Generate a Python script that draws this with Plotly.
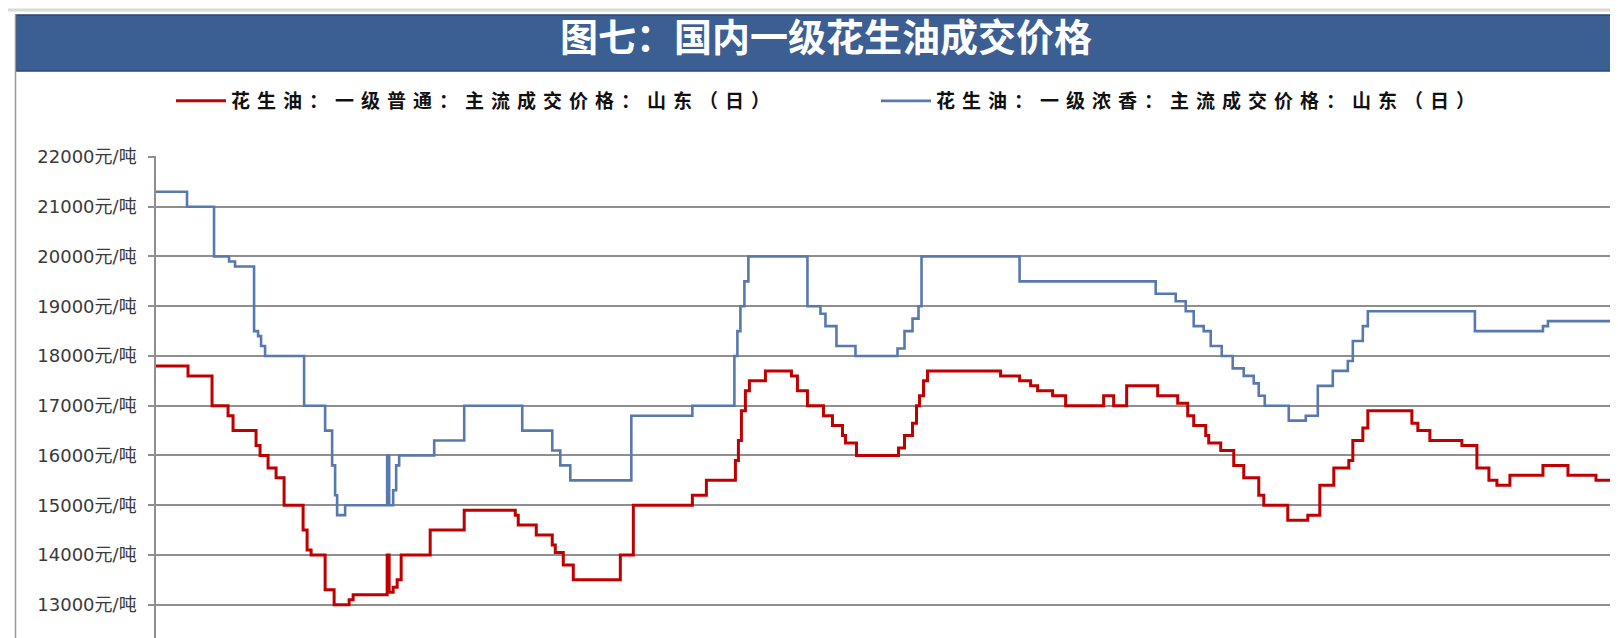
import plotly.graph_objects as go

# ---- data (day index from chart start, price in 元/吨) ----
common_day = [0, 32, 56, 72, 77, 100, 104, 112, 120, 128, 147, 151, 155, 169, 178, 193, 197,
              231, 233, 237, 241, 245, 274, 308, 359, 362, 380, 396, 399, 407, 417, 464, 477,
              536, 550, 579, 582, 585, 589, 593, 609, 635, 641, 651, 667, 676, 686, 689, 700,
              742, 748, 756, 760, 763, 767, 771, 844, 863, 874, 881, 896, 909, 947, 957, 970,
              1001, 1021, 1031, 1037, 1049, 1052, 1064, 1077, 1087, 1102, 1107, 1131, 1151,
              1163, 1177, 1192, 1196, 1206, 1211, 1255, 1261, 1273, 1305, 1320, 1332, 1340,
              1353, 1386, 1411, 1439, 1464]
common_price = [17800, 17600, 17000, 16800, 16500, 16200, 16000, 15750, 15550, 15000, 14500,
                14100, 14000, 13300, 13000, 13100, 13200, 14000, 13250, 13350, 13500, 14000,
                14500, 14900, 14800, 14600, 14400, 14200, 14050, 13800, 13500, 14000, 15000,
                15200, 15500, 15900, 16300, 16900, 17300, 17500, 17700, 17600, 17300, 17000,
                16800, 16600, 16400, 16250, 16000, 16150, 16400, 16650, 17000, 17200, 17500,
                17700, 17600, 17500, 17400, 17300, 17200, 17000, 17200, 17000, 17400, 17200,
                17050, 16800, 16600, 16400, 16250, 16100, 15800, 15550, 15200, 15000, 14700,
                14800, 15400, 15750, 15900, 16300, 16550, 16900, 16650, 16500, 16300, 16200,
                15750, 15500, 15400, 15600, 15800, 15600, 15500, 15500]

fragrant_day = [0, 31, 58, 73, 79, 98, 102, 105, 109, 148, 169, 176, 179, 181, 189, 231, 233,
                237, 240, 243, 278, 308, 366, 396, 404, 414, 475, 536, 578, 581, 584, 588, 592,
                651, 664, 669, 680, 699, 741, 748, 756, 762, 765, 863, 999, 1019, 1029, 1037,
                1047, 1054, 1065, 1076, 1087, 1097, 1102, 1108, 1132, 1149, 1161, 1176, 1191,
                1196, 1206, 1211, 1318, 1386, 1391, 1464]
fragrant_price = [21300, 21000, 20000, 19900, 19800, 18500, 18400, 18200, 18000, 17000, 16500,
                  15800, 15200, 14800, 15000, 16000, 15000, 15300, 15800, 16000, 16300, 17000,
                  16500, 16100, 15800, 15500, 16800, 17000, 18000, 18500, 19000, 19500, 20000,
                  19000, 18850, 18600, 18200, 18000, 18150, 18500, 18750, 19000, 20000, 19500,
                  19250, 19100, 18900, 18600, 18500, 18200, 18000, 17750, 17600, 17450, 17200,
                  17000, 16700, 16800, 17400, 17700, 17900, 18300, 18600, 18900, 18500, 18600,
                  18700, 18700]

series_names = ["花生油：一级普通：主流成交价格：山东（日）",
                "花生油：一级浓香：主流成交价格：山东（日）"]
tick_values = [13000, 14000, 15000, 16000, 17000, 18000, 19000, 20000, 21000, 22000]
tick_labels = [f"{v}元/吨" for v in tick_values]
title_text = "图七：国内一级花生油成交价格"

# ---- layout geometry (pixels) ----
W, H = 1618, 638
L, R, T, B = 148, 5, 148, 0
plot_h = H - T - B
plot_w = W - L - R


def px_x(p):
    return (p - L) / plot_w


def px_y(p):
    return (H - B - p) / plot_h


def spaced(name):
    return f'<span style="letter-spacing:7px">{name}</span>'


fig = go.Figure()
fig.add_trace(go.Scatter(x=common_day, y=common_price, mode="lines", name=spaced(series_names[0]),
                         line=dict(color="#c00000", width=3, shape="hv")))
fig.add_trace(go.Scatter(x=fragrant_day, y=fragrant_price, mode="lines", name=spaced(series_names[1]),
                         line=dict(color="#5878b0", width=2.6, shape="hv")))

tick_font = dict(size=18, color="#3a3a3a", family="DejaVu Sans, Noto Sans CJK SC")

fig.update_layout(
    width=W, height=H,
    margin=dict(l=L, r=R, t=T, b=B),
    paper_bgcolor="white", plot_bgcolor="white",
    font=dict(family="DejaVu Sans, Noto Sans CJK SC", color="#333333"),
    title=dict(text=title_text, x=818 / W, xref="container", xanchor="center",
               y=1 - 30 / H, yref="container", yanchor="middle",
               font=dict(family="Noto Sans CJK SC", size=38, color="white", weight="bold")),
    showlegend=True,
    legend=dict(orientation="h", x=px_x(163), xanchor="left", y=px_y(93), yanchor="middle",
                font=dict(family="Noto Sans CJK SC", size=19, color="#111111", weight="bold"),
                itemwidth=50, entrywidth=640, entrywidthmode="pixels",
                bgcolor="rgba(0,0,0,0)"),
    xaxis=dict(visible=False, range=[0, 1464], fixedrange=True),
    yaxis=dict(range=[12170, 22020], tickvals=tick_values, ticktext=tick_labels,
               showgrid=True, gridcolor="#8f8f8f", gridwidth=1.5,
               showline=True, linecolor="#8f8f8f", linewidth=1.5,
               ticks="outside", ticklen=6, tickcolor="#8f8f8f", tickwidth=1.5,
               tickfont=tick_font, ticklabelstandoff=8, zeroline=False, fixedrange=True),
    shapes=[
        dict(type="rect", xref="paper", yref="paper", x0=px_x(8), x1=px_x(W + 2),
             y0=px_y(63), y1=px_y(7), fillcolor="#3b5e93",
             line=dict(color="#2b4670", width=1.5), layer="below"),
        dict(type="line", xref="paper", yref="paper", x0=px_x(7.5), x1=px_x(7.5),
             y0=px_y(H + 2), y1=px_y(7), line=dict(color="#9a9a9a", width=1.5)),
        dict(type="line", xref="paper", yref="paper", x0=px_x(0), x1=px_x(W),
             y0=px_y(2), y1=px_y(2), line=dict(color="#d9d9d9", width=3)),
    ],
    annotations=[
        dict(text="12000元/吨", xref="paper", yref="paper", x=px_x(134), xanchor="right",
             y=px_y(645), yanchor="middle", showarrow=False, font=tick_font),
    ],
)

fig.write_html("out.html")
